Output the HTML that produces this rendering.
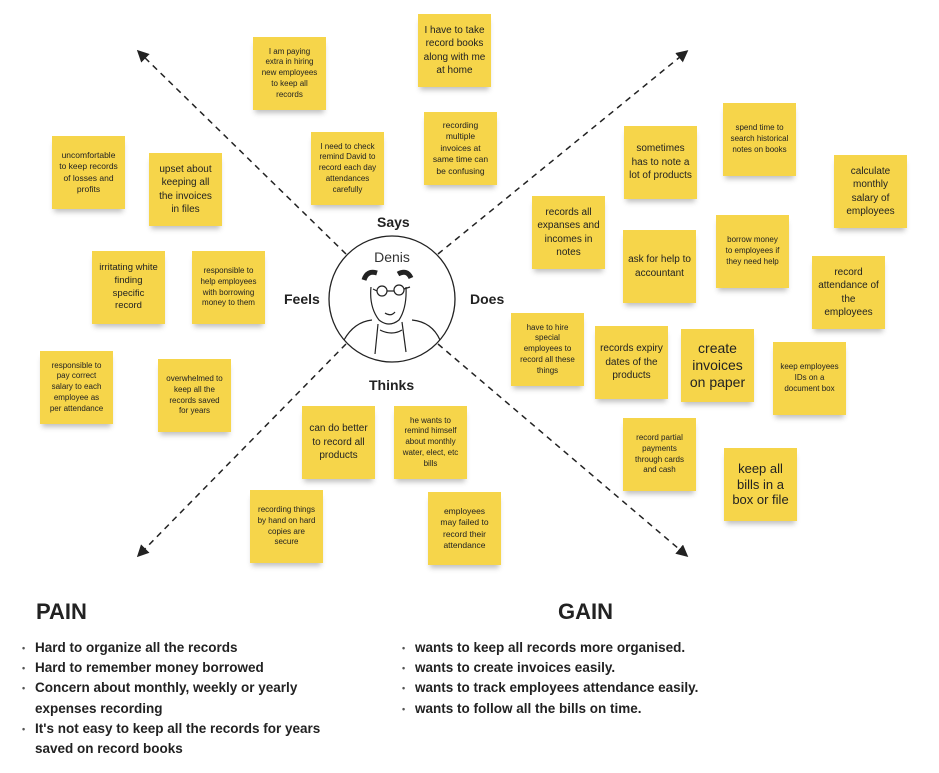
<!DOCTYPE html>
<html><head><meta charset="utf-8"><style>
body{margin:0;width:939px;height:773px;background:#fff;position:relative;overflow:hidden;font-family:"Liberation Sans",sans-serif;}
.s{position:absolute;width:73px;height:73px;background:#f6d54a;display:flex;align-items:center;justify-content:center;text-align:center;color:#222;box-shadow:0 5px 5px -2px rgba(0,0,0,0.25);box-sizing:border-box;padding:4px 7px;line-height:1.35;}
.a{font-size:8px}.b{font-size:10px;padding:4px 5px}.c{font-size:13px;line-height:1.2}
.l{position:absolute;font-weight:bold;font-size:14px;color:#222}
h2{position:absolute;margin:0;font-size:22px;font-weight:bold;color:#222}
ul{position:absolute;margin:0;padding:0;list-style:none;font-weight:bold;font-size:13.5px;color:#222;line-height:20.2px}
li{position:relative;padding-left:13px}
li:before{content:"•";position:absolute;left:0;font-size:9px;color:#555}
</style></head><body>
<svg width="939" height="773" style="position:absolute;left:0;top:0">
<defs><marker id="m" markerWidth="8" markerHeight="8" refX="6" refY="4" orient="auto"><path d="M0,0 L8,4 L0,8 z" fill="#222"/></marker></defs>
<g stroke="#222" stroke-width="1.5" stroke-dasharray="6,5" fill="none">
<line x1="346" y1="254" x2="139" y2="52" marker-end="url(#m)"/>
<line x1="438" y1="254" x2="686" y2="52" marker-end="url(#m)"/>
<line x1="346" y1="344" x2="139" y2="555" marker-end="url(#m)"/>
<line x1="438" y1="344" x2="686" y2="555" marker-end="url(#m)"/>
</g>
<circle cx="392" cy="299" r="63" fill="#fff" stroke="#222" stroke-width="1.3"/>
<text x="392" y="262" text-anchor="middle" font-size="14" fill="#333" font-family="Liberation Sans">Denis</text>
<g stroke="#222" stroke-width="1.2" fill="none">
<path d="M371,287 q-2,20 8,33 q10,8 20,0 q8,-12 7,-33"/>
<path d="M364,280 q3,-10 13,-7 M398,274 q9,-5 13,4" stroke-width="5"/>
<circle cx="382" cy="291" r="5"/><circle cx="399" cy="290" r="5"/>
<path d="M387,291 h7 M404,289 l6,-2 M377,291 l-4,-2"/>
<path d="M385,313 q6,4 10,-1"/>
<path d="M378,324 l-3,30 M402,322 l4,30 M380,330 q12,6 22,0"/>
<path d="M344,340 q10,-18 28,-20 M412,320 q20,2 28,20"/>
</g>
</svg>
<div class="l" style="left:377px;top:214px">Says</div>
<div class="l" style="left:284px;top:291px">Feels</div>
<div class="l" style="left:470px;top:291px">Does</div>
<div class="l" style="left:369px;top:377px">Thinks</div>

<div class="s a" style="left:253px;top:37px">I am paying extra in hiring new employees to keep all records</div>
<div class="s b" style="left:418px;top:14px">I have to take record books along with me at home</div>
<div class="s a" style="left:311px;top:132px">I need to check remind David to record each day attendances carefully</div>
<div class="s a" style="left:424px;top:112px;font-size:8.5px">recording multiple invoices at same time can be confusing</div>

<div class="s a" style="left:52px;top:136px;font-size:8.5px">uncomfortable to keep records of losses and profits</div>
<div class="s b" style="left:149px;top:153px">upset about keeping all the invoices in files</div>
<div class="s a" style="left:92px;top:251px;font-size:9.5px">irritating white finding specific record</div>
<div class="s a" style="left:192px;top:251px">responsible to help employees with borrowing money to them</div>
<div class="s a" style="left:40px;top:351px">responsible to pay correct salary to each employee as per attendance</div>
<div class="s a" style="left:158px;top:359px">overwhelmed to keep all the records saved for years</div>

<div class="s b" style="left:624px;top:126px">sometimes has to note a lot of products</div>
<div class="s a" style="left:723px;top:103px">spend time to search historical notes on books</div>
<div class="s b" style="left:834px;top:155px">calculate monthly salary of employees</div>
<div class="s b" style="left:532px;top:196px">records all expanses and incomes in notes</div>
<div class="s b" style="left:623px;top:230px">ask for help to accountant</div>
<div class="s a" style="left:716px;top:215px">borrow money to employees if they need help</div>
<div class="s b" style="left:812px;top:256px">record attendance of the employees</div>
<div class="s a" style="left:511px;top:313px">have to hire special employees to record all these things</div>
<div class="s b" style="left:595px;top:326px">records expiry dates of the products</div>
<div class="s c" style="left:681px;top:329px;font-size:14px">create invoices on paper</div>
<div class="s a" style="left:773px;top:342px">keep employees IDs on a document box</div>
<div class="s a" style="left:623px;top:418px">record partial payments through cards and cash</div>
<div class="s c" style="left:724px;top:448px">keep all bills in a box or file</div>

<div class="s b" style="left:302px;top:406px">can do better to record all products</div>
<div class="s a" style="left:394px;top:406px">he wants to remind himself about monthly water, elect, etc bills</div>
<div class="s a" style="left:250px;top:490px">recording things by hand on hard copies are secure</div>
<div class="s a" style="left:428px;top:492px;font-size:8.5px">employees may failed to record their attendance</div>

<h2 style="left:36px;top:599px">PAIN</h2>
<h2 style="left:558px;top:599px">GAIN</h2>
<ul style="left:22px;top:638px;width:335px">
<li>Hard to organize all the records</li>
<li>Hard to remember money borrowed</li>
<li>Concern about monthly, weekly or yearly expenses recording</li>
<li>It's not easy to keep all the records for years saved on record books</li>
</ul>
<ul style="left:402px;top:638px;width:400px">
<li>wants to keep all records more organised.</li>
<li>wants to create invoices easily.</li>
<li>wants to track employees attendance easily.</li>
<li>wants to follow all the bills on time.</li>
</ul>
</body></html>
